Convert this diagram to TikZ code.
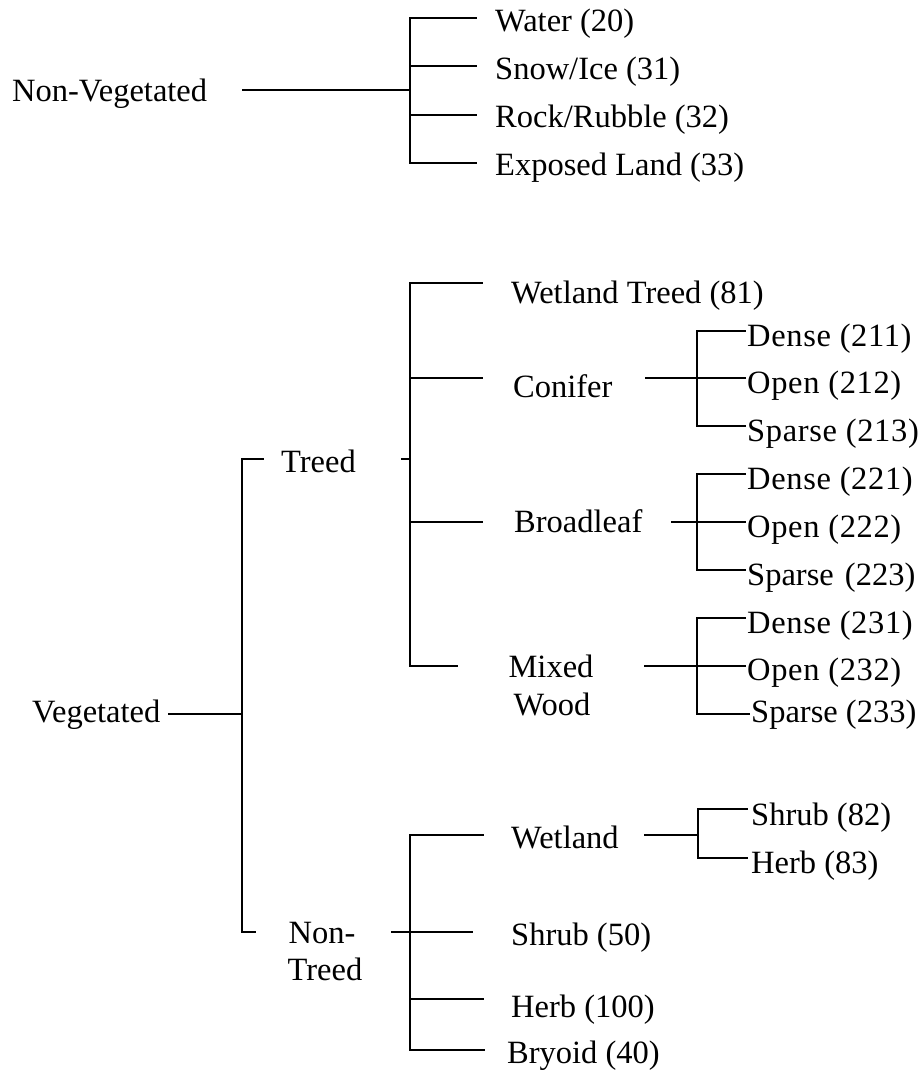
\documentclass[tikz,border=0pt]{standalone}
\usepackage{fontspec}
\setmainfont{Liberation Serif}
\newfontfamily\widefont[LetterSpace=2]{Liberation Serif}
\begin{document}
\begin{tikzpicture}[x=1pt,y=-1pt,
  lbl/.style={anchor=base west, inner sep=0pt, font=\fontsize{32.5}{38}\selectfont},
  wlbl/.style={anchor=base west, inner sep=0pt, font=\fontsize{32.5}{38}\widefont},
  clbl/.style={anchor=base, inner sep=0pt, font=\fontsize{32.5}{38}\selectfont},
  ln/.style={line width=1.8pt, line cap=rect}]
\useasboundingbox (0,0) rectangle (923,1071);

% ---------------- Non-Vegetated ----------------
\node[lbl] (nonveg) at (12,101) {Non-Vegetated};
\node[lbl] (water) at (495,31) {Water (20)};
\node[lbl] (snow) at (495,79) {Snow/Ice (31)};
\node[lbl] (rock) at (495,127) {Rock/Rubble (32)};
\node[lbl] (exposed) at (495,175) {Exposed Land (33)};
\coordinate (nvA) at (243,90);
\coordinate (nvJ) at (410,90);
\coordinate (nvT) at (410,18);
\coordinate (nvS) at (410,66);
\coordinate (nvR) at (410,115);
\coordinate (nvB) at (410,163);
\coordinate (waterE) at (476,18);
\coordinate (snowE) at (476,66);
\coordinate (rockE) at (476,115);
\coordinate (expE) at (476,163);
\draw[ln] (nvA) -- (nvJ);
\draw[ln] (waterE) -- (nvT) -- (nvB) -- (expE);
\draw[ln] (nvS) -- (snowE);
\draw[ln] (nvR) -- (rockE);

% ---------------- Vegetated ----------------
\node[lbl] (veg) at (32,722) {Vegetated};
\coordinate (vegA) at (169,714);
\coordinate (vegJ) at (242,714);
\coordinate (vegT) at (242,459);
\coordinate (vegB) at (242,932);
\coordinate (vegTE) at (263,459);
\coordinate (vegBE) at (255,932);
\draw[ln] (vegA) -- (vegJ);
\draw[ln] (vegTE) -- (vegT) -- (vegB) -- (vegBE);

% Treed
\node[lbl] (treed) at (281,472) {Treed};
\coordinate (trA) at (402,459);
\coordinate (trJ) at (410,459);
\draw[ln] (trA) -- (trJ);
\coordinate (trT) at (410,283);
\coordinate (trC) at (410,378);
\coordinate (trBr) at (410,522);
\coordinate (trB) at (410,666);
\coordinate (wtE) at (482,283);
\coordinate (conE) at (482,378);
\coordinate (brE) at (482,522);
\coordinate (mxE) at (457,666);
\draw[ln] (wtE) -- (trT) -- (trB) -- (mxE);
\draw[ln] (trC) -- (conE);
\draw[ln] (trBr) -- (brE);

\node[lbl] (wtreed) at (511,303) {Wetland Treed (81)};

% Conifer
\node[lbl] (conifer) at (513,397) {Conifer};
\coordinate (coA) at (646,378);
\coordinate (coT) at (697,331);
\coordinate (coB) at (697,426);
\coordinate (coTE) at (745,331);
\coordinate (coME) at (745,378);
\coordinate (coBE) at (745,426);
\draw[ln] (coA) -- (coME);
\draw[ln] (coTE) -- (coT) -- (coB) -- (coBE);
\node[wlbl] (d211) at (747,346) {Dense (211)};
\node[wlbl] (o212) at (747,393) {Open (212)};
\node[wlbl] (s213) at (747,441) {Sparse (213)};

% Broadleaf
\node[lbl] (broad) at (514,532) {Broadleaf};
\coordinate (blA) at (672,522);
\coordinate (blT) at (697,474);
\coordinate (blB) at (697,570);
\coordinate (blTE) at (745,474);
\coordinate (blME) at (745,522);
\coordinate (blBE) at (745,570);
\draw[ln] (blA) -- (blME);
\draw[ln] (blTE) -- (blT) -- (blB) -- (blBE);
\node[wlbl] (d221) at (747,489) {Dense (221)};
\node[wlbl] (o222) at (747,537) {Open (222)};
\node[lbl] (s223) at (747,585) {Sparse~\hspace{3pt}(223)};

% Mixed Wood
\node[clbl] (mixed) at (551,677) {Mixed};
\node[clbl] (wood) at (552,715) {Wood};
\coordinate (mwA) at (645,666);
\coordinate (mwT) at (697,618);
\coordinate (mwB) at (697,714);
\coordinate (mwTE) at (745,618);
\coordinate (mwME) at (745,666);
\coordinate (mwBE) at (749,714);
\draw[ln] (mwA) -- (mwME);
\draw[ln] (mwTE) -- (mwT) -- (mwB) -- (mwBE);
\node[wlbl] (d231) at (747,633) {Dense (231)};
\node[wlbl] (o232) at (747,680) {Open (232)};
\node[lbl] (s233) at (751,722) {Sparse (233)};

% Non-Treed
\node[clbl] (nontr1) at (322,943) {Non-};
\node[clbl] (nontr2) at (325,980) {Treed};
\coordinate (ntA) at (392,932);
\coordinate (ntT) at (410,835);
\coordinate (ntB) at (410,1050);
\coordinate (ntH) at (410,999);
\coordinate (wlE) at (483,835);
\coordinate (shE) at (472,932);
\coordinate (hbE) at (483,999);
\coordinate (byE) at (484,1050);
\draw[ln] (ntA) -- (shE);
\draw[ln] (wlE) -- (ntT) -- (ntB) -- (byE);
\draw[ln] (ntH) -- (hbE);

\node[lbl] (wetland) at (511,848) {Wetland};
\coordinate (wlA) at (645,835);
\coordinate (wlT) at (698,809);
\coordinate (wlB) at (698,858);
\coordinate (wlJ) at (698,835);
\coordinate (wlTE) at (747,809);
\coordinate (wlBE) at (747,858);
\draw[ln] (wlA) -- (wlJ);
\draw[ln] (wlTE) -- (wlT) -- (wlB) -- (wlBE);
\node[lbl] (shrub82) at (751,825) {Shrub (82)};
\node[lbl] (herb83) at (751,873) {Herb (83)};

\node[lbl] (shrub50) at (511,945) {Shrub (50)};
\node[lbl] (herb100) at (511,1017) {Herb (100)};
\node[lbl] (bryoid) at (507,1063) {Bryoid (40)};
\end{tikzpicture}
\end{document}
